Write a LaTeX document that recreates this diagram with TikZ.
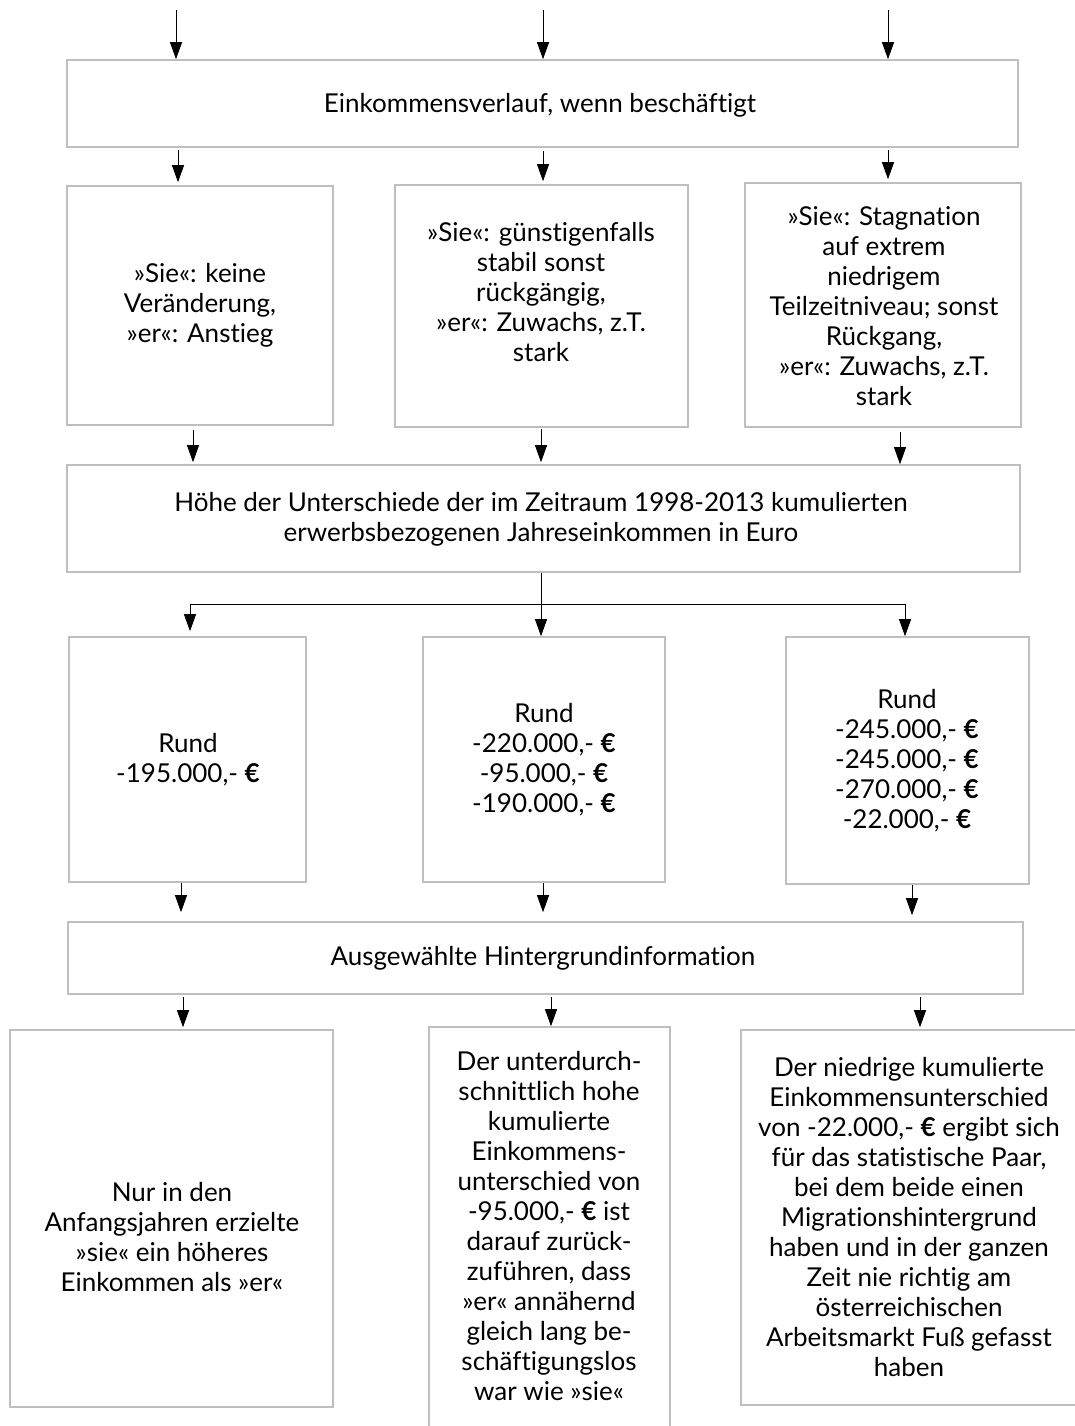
\documentclass[tikz,border=0pt]{standalone}
\usepackage{fontspec}
\setmainfont[Ligatures={NoCommon}]{Lato}
\usetikzlibrary{arrows.meta}
\definecolor{boxgray}{HTML}{BFBFBF}
\tikzset{
  box/.style={draw=boxgray, line width=1.6pt, inner sep=0pt, anchor=center},
  txt/.style={align=center, inner sep=0pt, text=black, font=\fontsize{26}{30}\selectfont},
  arr/.style={-{Triangle[length=17pt,width=12pt]}, line width=0.9pt, black},
  ln/.style={line width=0.9pt, black},
}
\newcommand{\eur}{{\bfseries €}}
\begin{document}
\begin{tikzpicture}[x=1pt,y=-1pt]
\useasboundingbox (0,0) rectangle (1075,1426);
% row 1
\node[box, minimum width=951pt, minimum height=87pt] (b1) at (542.5,103.5) {};
\node[txt] (b1t) at (540,105) {Einkommensverlauf, wenn beschäftigt};
% row 2
\node[box, minimum width=266pt, minimum height=239pt] (l1) at (200,305.5) {};
\node[txt] (l1t) at (200,305) {»Sie«: keine\\Veränderung,\\»er«: Anstieg};
\node[box, minimum width=293pt, minimum height=242pt] (m1) at (541.5,306) {};
\node[txt] (m1t) at (541,292) {»Sie«: günstigenfalls\\stabil sonst\\rückgängig,\\»er«: Zuwachs, z.T.\\stark};
\node[box, minimum width=276pt, minimum height=244pt] (r1) at (883,305) {};
\node[txt] (r1t) at (884,306) {»Sie«: Stagnation\\auf extrem\\niedrigem\\Teilzeitniveau; sonst\\Rückgang,\\»er«: Zuwachs, z.T.\\stark};
% row 3
\node[box, minimum width=953pt, minimum height=107pt] (b2) at (543.5,518.5) {};
\node[txt] (b2t) at (541,519) {Höhe der Unterschiede der im Zeitraum 1998-2013 kumulierten\\erwerbsbezogenen Jahreseinkommen in Euro};
% row 4
\node[box, minimum width=237pt, minimum height=245pt] (l2) at (187.5,759.5) {};
\node[txt] (l2t) at (188,759.5) {Rund\\-195.000,- \eur};
\node[box, minimum width=242pt, minimum height=245pt] (m2) at (544,759.5) {};
\node[txt] (m2t) at (544,760) {Rund\\-220.000,- \eur\\-95.000,- \eur\\-190.000,- \eur};
\node[box, minimum width=243pt, minimum height=247pt] (r2) at (907.5,760.5) {};
\node[txt] (r2t) at (907,761) {Rund\\-245.000,- \eur\\-245.000,- \eur\\-270.000,- \eur\\-22.000,- \eur};
% row 5
\node[box, minimum width=955pt, minimum height=72pt] (b3) at (545.5,958) {};
\node[txt] (b3t) at (543,958) {Ausgewählte Hintergrundinformation};
% row 6
\node[box, minimum width=323pt, minimum height=377pt] (l3) at (171.5,1218.5) {};
\node[txt] (l3t) at (172,1237.5) {Nur in den\\Anfangsjahren erzielte\\»sie« ein höheres\\Einkommen als »er«};
\node[box, minimum width=241pt, minimum height=430pt] (m3) at (549.5,1242) {};
\node[txt] (m3t) at (549,1226.5) {Der unterdurch-\\schnittlich hohe\\kumulierte\\Einkommens-\\unterschied von\\-95.000,- \eur{} ist\\darauf zurück-\\zuführen, dass\\»er« annähernd\\gleich lang be-\\schäftigungslos\\war wie »sie«};
\node[box, minimum width=337pt, minimum height=375pt] (r3) at (909.5,1217.5) {};
\node[txt] (r3t) at (909,1217) {Der niedrige kumulierte\\Einkommensunterschied\\von -22.000,- \eur{} ergibt sich\\für das statistische Paar,\\bei dem beide einen\\Migrationshintergrund\\haben und in der ganzen\\Zeit nie richtig am\\österreichischen\\Arbeitsmarkt Fuß gefasst\\haben};
% column coordinates
\coordinate (t1) at (176,10);
\coordinate (t2) at (543,10);
\coordinate (t3) at (888,10);
\draw[arr] (t1) -- (t1 |- b1.north);
\draw[arr] (t2) -- (t2 |- b1.north);
\draw[arr] (t3) -- (t3 |- b1.north);
\coordinate (a1) at (178,0);
\coordinate (a2) at (543,0);
\coordinate (a3) at (888,0);
\draw[arr, shorten <=2pt, shorten >=3pt] (a1 |- b1.south) -- (a1 |- l1.north);
\draw[arr, shorten <=3pt, shorten >=3pt] (a2 |- b1.south) -- (a2 |- m1.north);
\draw[arr, shorten <=2pt, shorten >=3pt] (a3 |- b1.south) -- (a3 |- r1.north);
\coordinate (c1) at (193,0);
\coordinate (c2) at (541,0);
\coordinate (c3) at (900,0);
\draw[arr, shorten <=4pt, shorten >=2pt] (c1 |- l1.south) -- (c1 |- b2.north);
\draw[arr, shorten <=1pt, shorten >=2pt] (c2 |- m1.south) -- (c2 |- b2.north);
\draw[arr, shorten <=4pt, shorten >=0pt] (c3 |- r1.south) -- (c3 |- b2.north);
% fork
\coordinate (fl) at (190,604);
\coordinate (fr) at (905,604);
\draw[ln] (fl) -- (fr);
\draw[arr] (c2 |- b2.south) -- (c2 |- m2.north);
\draw[arr, shorten >=5pt] (fl) -- (fl |- l2.north);
\draw[arr] (fr) -- (fr |- r2.north);
% to row 5
\coordinate (d1) at (181,0);
\coordinate (d2) at (543,0);
\coordinate (d3) at (912,0);
\draw[arr, shorten >=9pt] (d1 |- l2.south) -- (d1 |- b3.north);
\draw[arr, shorten >=9pt] (d2 |- m2.south) -- (d2 |- b3.north);
\draw[arr, shorten >=6pt] (d3 |- r2.south) -- (d3 |- b3.north);
% to row 6
\coordinate (e1) at (183,0);
\coordinate (e2) at (551,0);
\coordinate (e3) at (920,0);
\draw[arr, shorten <=2pt, shorten >=2pt] (e1 |- b3.south) -- (e1 |- l3.north);
\draw[arr, shorten <=2pt, shorten >=0pt] (e2 |- b3.south) -- (e2 |- m3.north);
\draw[arr, shorten <=2pt, shorten >=2pt] (e3 |- b3.south) -- (e3 |- r3.north);
\end{tikzpicture}
\end{document}
